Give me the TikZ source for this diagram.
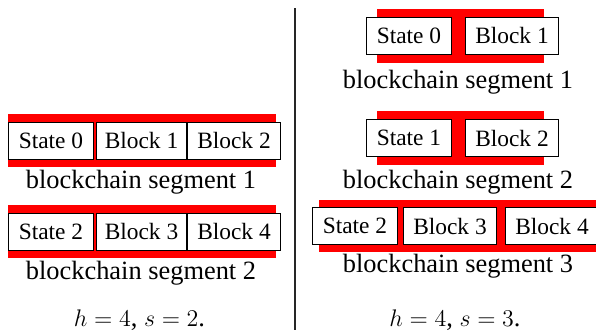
\documentclass[tikz,border=0pt]{standalone}
\usepackage{fontspec}
\setmainfont{Liberation Serif}
\usetikzlibrary{positioning,backgrounds}
\tikzset{
  blk/.style={draw, fill=white, line width=0.5pt, minimum height=18.5pt, inner sep=0pt,
    font=\fontsize{11.7}{13}\selectfont},
  statebox/.style={blk, minimum width=42.5pt},
  blockbox/.style={blk, minimum width=46.5pt},
  seglabel/.style={anchor=base, inner sep=0pt, font=\fontsize{13.2}{15}\selectfont},
  formula/.style={anchor=base, inner sep=0pt, font=\fontsize{13.2}{15}\selectfont},
  chain/.style={fill=red}
}
\begin{document}
\begin{tikzpicture}[x=0.5pt, y=-0.5pt]
\useasboundingbox (0,0) rectangle (596,333);

\node (s0) [statebox, anchor=west] at (8,140.5) {State 0};
\node (b1) [blockbox, right=1pt of s0, minimum width=45pt] {Block 1};
\node (b2) [blockbox, right=0pt of b1] {Block 2};
\node (lsegA) [seglabel] at (141,188) {blockchain segment 1};

\node (s2) [statebox, anchor=west] at (8,231.5) {State 2};
\node (b3) [blockbox, right=1pt of s2, minimum width=45pt] {Block 3};
\node (b4) [blockbox, right=0pt of b3] {Block 4};
\node (lsegB) [seglabel] at (141,279) {blockchain segment 2};

\node (lform) [formula] at (139.5,326) {$h=4$, $s=2$.};

\coordinate (top) at (295,8);
\coordinate (bot) at (295,330);
\draw [line width=0.75pt, black!85] (top) -- (bot);

\node (t0) [statebox, anchor=west] at (366,35.5) {State 0};
\node (c1) [blockbox, right=6.5pt of t0] {Block 1};
\node (rsegA) [seglabel] at (458,88) {blockchain segment 1};

\node (t1) [statebox, anchor=west] at (366,138) {State 1};
\node (c2) [blockbox, right=6.5pt of t1] {Block 2};
\node (rsegB) [seglabel] at (458,188) {blockchain segment 2};

\node (t2) [statebox, anchor=west] at (312,226) {State 2};
\node (c3) [blockbox, right=2.5pt of t2] {Block 3};
\node (c4) [blockbox, right=4pt of c3] {Block 4};
\node (rsegC) [seglabel] at (458,272) {blockchain segment 3};

\node (rform) [formula] at (455,326) {$h=4$, $s=3$.};

\begin{scope}[on background layer]
\fill [chain] ([yshift=4pt]s0.north west) rectangle ([xshift=-2.5pt,yshift=-3.5pt]b2.south east);
\fill [chain] ([yshift=4pt]s2.north west) rectangle ([xshift=-2.5pt,yshift=-3.5pt]b4.south east);
\fill [chain] ([xshift=5.5pt,yshift=4pt]t0.north west) rectangle ([xshift=-7.5pt,yshift=-4pt]c1.south east);
\fill [chain] ([xshift=5.5pt,yshift=4pt]t1.north west) rectangle ([xshift=-7.5pt,yshift=-4pt]c2.south east);
\fill [chain] ([xshift=3.5pt,yshift=3.5pt]t2.north west) rectangle ([yshift=-3.5pt]c4.south east);
\end{scope}
\end{tikzpicture}
\end{document}
